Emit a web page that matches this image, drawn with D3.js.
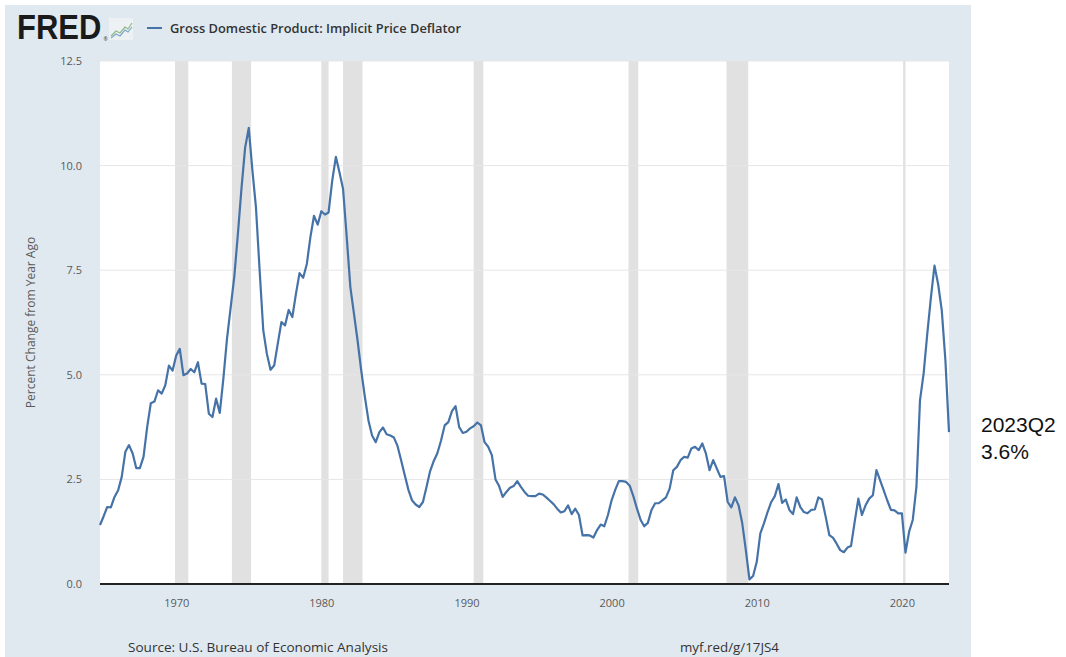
<!DOCTYPE html>
<html>
<head>
<meta charset="utf-8">
<script src="https://cdn.jsdelivr.net/npm/d3@7"></script>
<style>
  body { margin: 0; background: #ffffff; }
  svg { display: block; }
  text { font-family: "Open Sans", "Noto Sans", sans-serif; }
</style>
</head>
<body>
<div id="chart"></div>
<script>
// GDP implicit price deflator, percent change from year ago, quarterly
// first value is 1964Q4, last is 2023Q2
var firstQuarter = "1964-10-01";
var deflatorPct = [
  1.41,
  1.62, 1.84, 1.83, 2.08,   // 1965
  2.24, 2.56, 3.16, 3.32,   // 1966
  3.12, 2.77, 2.77, 3.04,   // 1967
  3.75, 4.32, 4.36, 4.63,   // 1968
  4.55, 4.75, 5.22, 5.10,   // 1969
  5.46, 5.62, 4.99, 5.03,   // 1970
  5.14, 5.06, 5.30, 4.79,   // 1971
  4.78, 4.07, 3.99, 4.43,   // 1972
  4.09, 4.90, 5.85, 6.60,   // 1973
  7.34, 8.35, 9.45, 10.43,  // 1974
  10.90, 9.90, 9.00, 7.50,  // 1975
  6.06, 5.50, 5.12, 5.22,   // 1976
  5.75, 6.26, 6.18, 6.55,   // 1977
  6.38, 6.93, 7.43, 7.32,   // 1978
  7.65, 8.29, 8.80, 8.59,   // 1979
  8.91, 8.83, 8.88, 9.64,   // 1980
  10.21, 9.84, 9.44, 8.29,  // 1981
  7.09, 6.46, 5.82, 5.10,   // 1982
  4.47, 3.91, 3.55, 3.39,   // 1983
  3.63, 3.74, 3.58, 3.55,   // 1984
  3.50, 3.30, 2.96, 2.60,   // 1985
  2.25, 2.00, 1.90, 1.84,   // 1986
  1.96, 2.32, 2.70, 2.94,   // 1987
  3.13, 3.43, 3.79, 3.87,   // 1988
  4.13, 4.25, 3.75, 3.61,   // 1989
  3.64, 3.72, 3.77, 3.86,   // 1990
  3.79, 3.39, 3.28, 3.08,   // 1991
  2.50, 2.34, 2.08, 2.20,   // 1992
  2.30, 2.34, 2.46, 2.32,   // 1993
  2.20, 2.11, 2.10, 2.10,   // 1994
  2.16, 2.14, 2.07, 1.99,   // 1995
  1.91, 1.80, 1.71, 1.74,   // 1996
  1.88, 1.67, 1.80, 1.65,   // 1997
  1.16, 1.17, 1.16, 1.11,   // 1998
  1.29, 1.42, 1.38, 1.65,   // 1999
  2.00, 2.25, 2.46, 2.46,   // 2000
  2.44, 2.35, 2.10, 1.80,   // 2001
  1.53, 1.38, 1.46, 1.77,   // 2002
  1.93, 1.93, 2.00, 2.07,   // 2003
  2.28, 2.72, 2.80, 2.96,   // 2004
  3.04, 3.02, 3.24, 3.28,   // 2005
  3.20, 3.36, 3.12, 2.72,   // 2006
  2.96, 2.76, 2.56, 2.58,   // 2007
  1.96, 1.83, 2.07, 1.88,   // 2008
  1.45, 0.81, 0.11, 0.19,   // 2009
  0.53, 1.21, 1.45, 1.72,   // 2010
  1.96, 2.10, 2.39, 1.94,   // 2011
  2.02, 1.77, 1.67, 2.07,   // 2012
  1.84, 1.72, 1.69, 1.77,   // 2013
  1.78, 2.07, 2.02, 1.61,   // 2014
  1.17, 1.11, 0.97, 0.81,   // 2015
  0.76, 0.87, 0.91, 1.49,   // 2016
  2.04, 1.65, 1.88, 2.04,   // 2017
  2.12, 2.72, 2.48, 2.24,   // 2018
  1.99, 1.77, 1.76, 1.69,   // 2019
  1.69, 0.75, 1.25, 1.53,   // 2020
  2.32, 4.39, 5.03, 5.98,   // 2021
  6.85, 7.61, 7.17, 6.54,   // 2022
  5.34, 3.63                // 2023
];

// NBER recessions (peak month, trough month)
var recessions = [
  ["1969-12-01", "1970-11-01"],
  ["1973-11-01", "1975-03-01"],
  ["1980-01-01", "1980-07-01"],
  ["1981-07-01", "1982-11-01"],
  ["1990-07-01", "1991-03-01"],
  ["2001-03-01", "2001-11-01"],
  ["2007-12-01", "2009-06-01"],
  ["2020-02-01", "2020-04-01"]
];

var yTicks = [0, 2.5, 5, 7.5, 10, 12.5];
var xTickYears = [1970, 1980, 1990, 2000, 2010, 2020];

var seriesTitle = "Gross Domestic Product: Implicit Price Deflator";
var yTitle = "Percent Change from Year Ago";
var sourceText = "Source: U.S. Bureau of Economic Analysis";
var linkText = "myf.red/g/17JS4";
var noteLines = ["2023Q2", "3.6%"];

var W = 1066, H = 657;
var plot = { left: 100, right: 949, top: 61, bottom: 584 };
var lineColor = "#4572a7";

var parse = d3.timeParse("%Y-%m-%d");
var start = parse(firstQuarter);
var data = deflatorPct.map(function(v, i) {
  return { date: d3.timeMonth.offset(start, i * 3), value: v };
});

var x = d3.scaleTime()
  .domain([data[0].date, data[data.length - 1].date])
  .range([plot.left, plot.right]);
var y = d3.scaleLinear()
  .domain([0, 12.5])
  .range([plot.bottom, plot.top]);

var svg = d3.select("#chart").append("svg")
  .attr("width", W)
  .attr("height", H);

// outer FRED panel
svg.append("rect")
  .attr("x", 5).attr("y", 5)
  .attr("width", 966).attr("height", H - 5)
  .attr("fill", "#e1e9f0");

svg.append("rect")
  .attr("x", plot.left).attr("y", plot.top)
  .attr("width", plot.right - plot.left)
  .attr("height", plot.bottom - plot.top)
  .attr("fill", "#ffffff");

// recession shading
svg.selectAll("rect.rec")
  .data(recessions)
  .enter().append("rect")
  .attr("class", "rec")
  .attr("x", function(d) { return x(parse(d[0])); })
  .attr("y", plot.top)
  .attr("width", function(d) { return Math.max(2, x(parse(d[1])) - x(parse(d[0]))); })
  .attr("height", plot.bottom - plot.top)
  .attr("fill", "#e1e1e1");

// horizontal grid
svg.selectAll("line.grid")
  .data(yTicks.slice(1))
  .enter().append("line")
  .attr("class", "grid")
  .attr("x1", plot.left).attr("x2", plot.right)
  .attr("y1", function(d) { return y(d); })
  .attr("y2", function(d) { return y(d); })
  .attr("stroke", "#e6e6e6")
  .attr("stroke-width", 1);

// y axis labels
var yAxis = d3.axisLeft(y)
  .tickValues(yTicks)
  .tickFormat(d3.format(".1f"))
  .tickSize(0)
  .tickPadding(18);
var gy = svg.append("g")
  .attr("transform", "translate(" + plot.left + ",0)")
  .call(yAxis);
gy.select(".domain").remove();
gy.selectAll("text")
  .attr("fill", "#595959")
  .style("font-size", "11px");

// x axis
var xAxis = d3.axisBottom(x)
  .tickValues(xTickYears.map(function(yr) { return new Date(yr, 0, 1); }))
  .tickFormat(d3.timeFormat("%Y"))
  .tickSize(0)
  .tickPadding(15);
var gx = svg.append("g")
  .attr("transform", "translate(0," + plot.bottom + ")")
  .call(xAxis);
gx.select(".domain").remove();
gx.selectAll("text")
  .attr("fill", "#595959")
  .style("font-size", "11px");

svg.append("line")
  .attr("x1", plot.left).attr("x2", plot.right)
  .attr("y1", y(0)).attr("y2", y(0))
  .attr("stroke", "#222")
  .attr("stroke-width", 2);

// series line
var line = d3.line()
  .x(function(d) { return x(d.date); })
  .y(function(d) { return y(d.value); });
svg.append("path")
  .datum(data)
  .attr("d", line)
  .attr("fill", "none")
  .attr("stroke", lineColor)
  .attr("stroke-width", 2.2)
  .attr("stroke-linejoin", "round");

// y title
svg.append("text")
  .attr("transform", "translate(35," + ((plot.top + plot.bottom) / 2) + ") rotate(-90)")
  .attr("text-anchor", "middle")
  .attr("fill", "#595959")
  .style("font-size", "12px")
  .text(yTitle);

// header: logo + legend
svg.append("text")
  .attr("transform", "translate(17,39) scale(1,1.12)")
  .style("font-family", "'Liberation Sans', Arial, sans-serif")
  .style("font-weight", "900")
  .style("font-size", "31px")
  .attr("fill", "#1a1a1a")
  .text("FRED");
svg.append("text")
  .attr("x", 103.5).attr("y", 41)
  .style("font-size", "5px")
  .attr("fill", "#333")
  .text("\u00ae");
var icon = svg.append("g").attr("transform", "translate(109,18)");
icon.append("rect")
  .attr("width", 24).attr("height", 22)
  .attr("fill", "#edf1f4");
icon.append("path")
  .attr("d", "M2,18 L7,13 L11,15 L16,9 L19,11 L23,5")
  .attr("fill", "none").attr("stroke", "#8fb98a").attr("stroke-width", 1.2);
icon.append("path")
  .attr("d", "M2,20 L7,16 L11,18 L16,12 L19,14 L23,9")
  .attr("fill", "none").attr("stroke", "#7ea6c9").attr("stroke-width", 1.2);

svg.append("line")
  .attr("x1", 147).attr("x2", 162)
  .attr("y1", 28).attr("y2", 28)
  .attr("stroke", lineColor)
  .attr("stroke-width", 2);
svg.append("text")
  .attr("x", 170).attr("y", 33)
  .attr("textLength", 291)
  .attr("lengthAdjust", "spacingAndGlyphs")
  .attr("fill", "#333")
  .style("font-size", "13px")
  .style("font-weight", "600")
  .text(seriesTitle);

// footer
svg.append("text")
  .attr("x", 128).attr("y", 652)
  .attr("textLength", 260)
  .attr("lengthAdjust", "spacingAndGlyphs")
  .attr("fill", "#333")
  .style("font-size", "13px")
  .text(sourceText);
svg.append("text")
  .attr("x", 680).attr("y", 652)
  .attr("textLength", 99)
  .attr("lengthAdjust", "spacingAndGlyphs")
  .attr("fill", "#333")
  .style("font-size", "13px")
  .text(linkText);

// annotation at right
svg.selectAll("text.note")
  .data(noteLines)
  .enter().append("text")
  .attr("class", "note")
  .attr("x", 981)
  .attr("y", function(d, i) { return 432 + i * 27; })
  .attr("fill", "#111")
  .style("font-family", "'Liberation Sans', Arial, sans-serif")
  .style("font-size", "21px")
  .text(function(d) { return d; });
</script>
</body>
</html>
